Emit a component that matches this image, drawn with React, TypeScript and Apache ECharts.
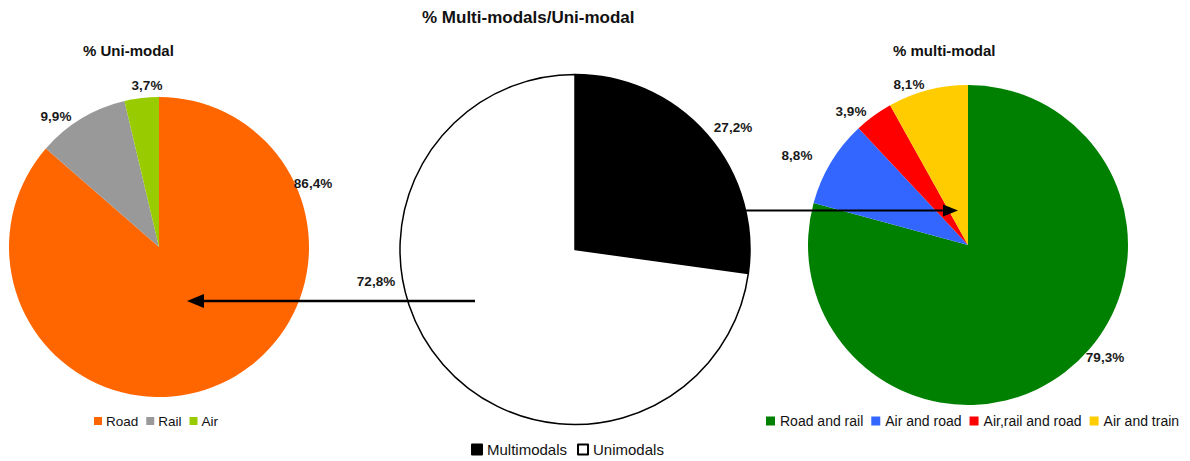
import React, { useEffect, useRef } from "react";
import * as echarts from "echarts";

const uniCategories = ["Road", "Rail", "Air"];
const uniValues = [86.4, 9.9, 3.7];
const uniColors = ["#FF6600", "#999999", "#99CC00"];

const splitCategories = ["Multimodals", "Unimodals"];
const splitValues = [27.2, 72.8];
const splitColors = ["#000000", "#FFFFFF"];

const multiCategories = ["Road and rail", "Air and road", "Air,rail and road", "Air and train"];
const multiValues = [79.3, 8.8, 3.9, 8.1];
const multiColors = ["#008000", "#3366FF", "#FF0000", "#FFCC00"];

// label anchor positions (layout only)
const uniLabelPos = [[313, 183], [56, 116], [147, 85]];
const splitLabelPos = [[733, 127], [376, 281]];
const multiLabelPos = [[1105, 357], [797, 155], [851, 111], [909, 84]];

const FONT = "Liberation Sans, Arial, sans-serif";

const fmt = (p: any) => Number(p.value).toFixed(1).replace(".", ",") + "%";

const labelStyle = {
  show: true,
  position: "outside",
  formatter: fmt,
  overflow: "none",
  fontFamily: FONT,
  fontSize: 13.5,
  fontWeight: "bold",
  color: "#1a1a1a",
};

const layoutFrom = (pos: number[][]) => (params: any) => {
  const p = pos[params.dataIndex];
  return { x: p[0], y: p[1], align: "center", verticalAlign: "middle" };
};

export default function App() {
  const ref = useRef<HTMLDivElement>(null);
  useEffect(() => {
    document.body.style.margin = "0";
    if (!ref.current) return;
    const chart = echarts.init(ref.current, undefined, { renderer: "svg" });
    const option: any = {
      animation: false,
      backgroundColor: "#FFFFFF",
      title: [
        {
          text: "% Multi-modals/Uni-modal",
          left: 422,
          top: 9,
          padding: 0,
          textStyle: { fontFamily: FONT, fontSize: 17, fontWeight: "bold", color: "#111" },
        },
        {
          text: "% Uni-modal",
          left: 83,
          top: 43,
          padding: 0,
          textStyle: { fontFamily: FONT, fontSize: 15, fontWeight: "bold", color: "#111" },
        },
        {
          text: "% multi-modal",
          left: 893,
          top: 43,
          padding: 0,
          textStyle: { fontFamily: FONT, fontSize: 15, fontWeight: "bold", color: "#111" },
        },
      ],
      legend: [
        {
          data: uniCategories,
          left: 94,
          top: 414,
          padding: 0,
          itemWidth: 8,
          itemHeight: 8,
          itemGap: 8,
          icon: "rect",
          textStyle: { fontFamily: FONT, fontSize: 13.5, color: "#111", padding: [0, 0, 0, -1] },
        },
        {
          data: splitCategories,
          left: 471,
          top: 442,
          padding: 0,
          itemWidth: 10,
          itemHeight: 10,
          itemGap: 10,
          icon: "rect",
          textStyle: { fontFamily: FONT, fontSize: 15, color: "#111" },
        },
        {
          data: multiCategories,
          left: 766,
          top: 414,
          padding: 0,
          itemWidth: 9,
          itemHeight: 9,
          itemGap: 8,
          icon: "rect",
          textStyle: { fontFamily: FONT, fontSize: 14, color: "#111" },
        },
      ],
      series: [
        {
          name: "% Uni-modal",
          type: "pie",
          center: [159, 247],
          radius: 150,
          startAngle: 90,
          clockwise: true,
          label: labelStyle,
          labelLine: { show: false },
          labelLayout: layoutFrom(uniLabelPos),
          emphasis: { disabled: true },
          data: uniCategories.map((n, i) => ({
            name: n,
            value: uniValues[i],
            itemStyle: { color: uniColors[i] },
          })),
        },
        {
          name: "% Multi-modals/Uni-modal",
          type: "pie",
          center: [575, 249.5],
          radius: 175,
          startAngle: 90,
          clockwise: true,
          label: labelStyle,
          labelLine: { show: false },
          labelLayout: layoutFrom(splitLabelPos),
          emphasis: { disabled: true },
          data: splitCategories.map((n, i) => ({
            name: n,
            value: splitValues[i],
            itemStyle: { color: splitColors[i], borderColor: "#000", borderWidth: 1.5 },
          })),
        },
        {
          name: "% multi-modal",
          type: "pie",
          center: [968, 245],
          radius: 160,
          startAngle: 90,
          clockwise: true,
          label: labelStyle,
          labelLine: { show: false },
          labelLayout: layoutFrom(multiLabelPos),
          emphasis: { disabled: true },
          data: multiCategories.map((n, i) => ({
            name: n,
            value: multiValues[i],
            itemStyle: { color: multiColors[i] },
          })),
        },
      ],
      graphic: [
        {
          type: "line",
          z: 100,
          shape: { x1: 475, y1: 301, x2: 200, y2: 301 },
          style: { stroke: "#000", lineWidth: 2.5 },
        },
        {
          type: "polygon",
          z: 100,
          shape: { points: [[187, 301], [204, 294], [204, 308]] },
          style: { fill: "#000" },
        },
        {
          type: "line",
          z: 100,
          shape: { x1: 745, y1: 210.5, x2: 946, y2: 210.5 },
          style: { stroke: "#000", lineWidth: 2 },
        },
        {
          type: "polygon",
          z: 100,
          shape: { points: [[958, 210.5], [943, 204.5], [943, 216.5]] },
          style: { fill: "#000" },
        },
      ],
    };
    chart.setOption(option);
    return () => chart.dispose();
  }, []);
  return <div ref={ref} style={{ width: 1190, height: 461 }} />;
}
